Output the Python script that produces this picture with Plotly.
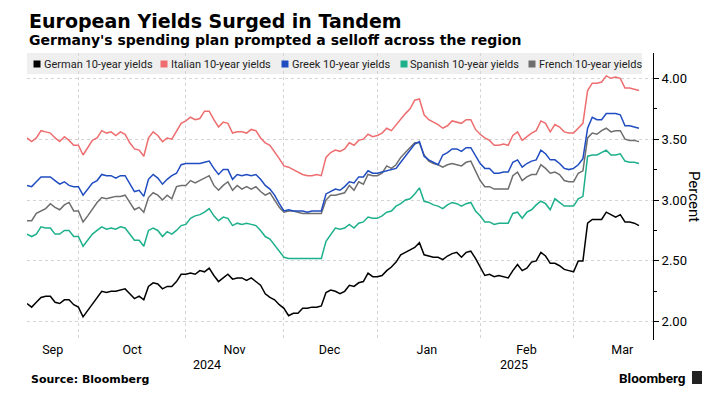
import pandas as pd
import plotly.graph_objects as go

# ---------------- data ----------------
holidays = ["2024-12-25", "2024-12-26", "2025-01-01"]
dates = pd.bdate_range("2024-09-13", "2025-03-20", freq="C", holidays=holidays).strftime("%Y-%m-%d").tolist()

german = [2.15, 2.12, 2.16, 2.20, 2.21, 2.21, 2.16, 2.15, 2.18, 2.18, 2.14, 2.12, 2.04, 2.09, 2.14, 2.19, 2.25, 2.24, 2.25, 2.25, 2.26, 2.27, 2.23, 2.19,
          2.21, 2.18, 2.29, 2.32, 2.31, 2.27, 2.29, 2.29, 2.33, 2.39, 2.39, 2.40, 2.39, 2.42, 2.41, 2.44, 2.38, 2.33, 2.36, 2.39, 2.35,
          2.36, 2.36, 2.34, 2.36, 2.33, 2.30, 2.23, 2.20, 2.18, 2.14, 2.11, 2.05, 2.07, 2.07, 2.11, 2.11, 2.12, 2.12, 2.13,
          2.24, 2.26, 2.25, 2.23, 2.25, 2.30, 2.29, 2.32, 2.33, 2.40, 2.37, 2.37, 2.38, 2.42, 2.45, 2.49, 2.55, 2.57, 2.59, 2.61, 2.65, 2.55, 2.54, 2.53,
          2.53, 2.51, 2.54, 2.56, 2.57, 2.53, 2.57, 2.58, 2.52, 2.45, 2.38, 2.39, 2.37, 2.38, 2.37, 2.36, 2.42, 2.47, 2.42, 2.44, 2.49,
          2.50, 2.57, 2.54, 2.48, 2.48, 2.46, 2.43, 2.42, 2.41, 2.50, 2.50, 2.81, 2.84, 2.84, 2.84, 2.90, 2.88, 2.86, 2.88, 2.82, 2.82, 2.81, 2.79]

italian = [3.51, 3.48, 3.51, 3.57, 3.56, 3.55, 3.51, 3.48, 3.52, 3.49, 3.45, 3.45, 3.37, 3.43, 3.49, 3.51, 3.57, 3.55, 3.56, 3.53, 3.56, 3.54, 3.47, 3.42,
           3.41, 3.36, 3.51, 3.56, 3.53, 3.48, 3.51, 3.50, 3.56, 3.63, 3.65, 3.68, 3.66, 3.67, 3.73, 3.73, 3.66, 3.60, 3.64, 3.63, 3.55,
           3.56, 3.56, 3.55, 3.58, 3.57, 3.51, 3.47, 3.45, 3.40, 3.34, 3.28, 3.27, 3.25, 3.23, 3.21, 3.20, 3.20, 3.21, 3.20,
           3.35, 3.39, 3.41, 3.40, 3.42, 3.47, 3.45, 3.49, 3.50, 3.54, 3.52, 3.53, 3.55, 3.59, 3.57, 3.62, 3.66, 3.71, 3.75, 3.82, 3.83, 3.70, 3.66, 3.64,
           3.62, 3.59, 3.61, 3.65, 3.64, 3.63, 3.66, 3.66, 3.58, 3.54, 3.51, 3.49, 3.45, 3.45, 3.46, 3.45, 3.53, 3.56, 3.49, 3.52, 3.55,
           3.57, 3.65, 3.63, 3.56, 3.62, 3.60, 3.56, 3.55, 3.55, 3.59, 3.63, 3.90, 3.96, 3.96, 3.97, 4.02, 4.00, 4.01, 4.00, 3.92, 3.92, 3.91, 3.90]

greek = [3.12, 3.11, 3.15, 3.19, 3.19, 3.19, 3.16, 3.13, 3.15, 3.12, 3.11, 3.11, 3.04, 3.09, 3.14, 3.16, 3.21, 3.20, 3.20, 3.18, 3.20, 3.20, 3.14, 3.07,
         3.08, 3.03, 3.17, 3.21, 3.18, 3.13, 3.17, 3.20, 3.22, 3.29, 3.30, 3.30, 3.30, 3.30, 3.31, 3.32, 3.26, 3.21, 3.25, 3.25, 3.17,
         3.21, 3.20, 3.21, 3.20, 3.21, 3.17, 3.12, 3.09, 3.04, 2.97, 2.91, 2.92, 2.91, 2.91, 2.91, 2.90, 2.91, 2.91, 2.91,
         3.05, 3.07, 3.09, 3.08, 3.11, 3.15, 3.14, 3.19, 3.19, 3.24, 3.22, 3.22, 3.23, 3.24, 3.25, 3.26, 3.31, 3.36, 3.41, 3.46, 3.48, 3.36, 3.33, 3.31,
         3.29, 3.37, 3.39, 3.42, 3.42, 3.40, 3.43, 3.43, 3.36, 3.30, 3.26, 3.26, 3.22, 3.22, 3.23, 3.23, 3.31, 3.33, 3.27, 3.30, 3.32,
         3.33, 3.41, 3.38, 3.33, 3.33, 3.30, 3.26, 3.25, 3.26, 3.29, 3.34, 3.59, 3.68, 3.66, 3.66, 3.71, 3.71, 3.71, 3.70, 3.61, 3.61, 3.60, 3.59]

spanish = [2.72, 2.70, 2.72, 2.78, 2.77, 2.77, 2.72, 2.72, 2.75, 2.75, 2.70, 2.70, 2.62, 2.67, 2.72, 2.75, 2.78, 2.76, 2.77, 2.76, 2.78, 2.77, 2.72, 2.67,
           2.67, 2.62, 2.75, 2.77, 2.75, 2.70, 2.74, 2.72, 2.75, 2.79, 2.80, 2.85, 2.87, 2.88, 2.90, 2.93, 2.87, 2.83, 2.86, 2.85, 2.79,
           2.81, 2.80, 2.81, 2.80, 2.79, 2.75, 2.70, 2.68, 2.63, 2.57, 2.53, 2.52, 2.52, 2.52, 2.52, 2.52, 2.52, 2.52, 2.52,
           2.66, 2.71, 2.77, 2.76, 2.77, 2.80, 2.77, 2.81, 2.82, 2.86, 2.85, 2.85, 2.87, 2.90, 2.91, 2.95, 2.97, 3.00, 3.01, 3.05, 3.10, 2.99, 2.98, 2.96,
           2.95, 2.93, 2.96, 2.98, 2.97, 2.95, 2.97, 2.98, 2.91, 2.87, 2.82, 2.82, 2.80, 2.81, 2.81, 2.81, 2.89, 2.90, 2.85, 2.90, 2.92,
           2.96, 2.99, 2.97, 2.92, 3.01, 2.98, 2.95, 2.95, 2.95, 3.01, 3.03, 3.36, 3.37, 3.37, 3.39, 3.41, 3.37, 3.37, 3.38, 3.32, 3.31, 3.31, 3.30]

french = [2.83, 2.83, 2.89, 2.91, 2.93, 2.97, 2.94, 2.92, 2.96, 2.98, 2.91, 2.91, 2.82, 2.87, 2.93, 2.98, 3.02, 3.01, 3.02, 3.03, 3.03, 3.04, 2.98, 2.92,
          2.94, 2.90, 3.02, 3.06, 3.04, 3.00, 3.04, 3.01, 3.11, 3.12, 3.12, 3.16, 3.14, 3.16, 3.18, 3.20, 3.12, 3.08, 3.12, 3.15, 3.08,
          3.12, 3.09, 3.11, 3.09, 3.11, 3.07, 3.04, 3.06, 3.00, 2.94, 2.90, 2.91, 2.91, 2.90, 2.89, 2.89, 2.89, 2.89, 2.89,
          3.00, 3.04, 3.04, 3.05, 3.06, 3.12, 3.08, 3.15, 3.13, 3.21, 3.20, 3.20, 3.22, 3.28, 3.26, 3.29, 3.35, 3.39, 3.43, 3.47, 3.47, 3.37, 3.32, 3.30,
          3.29, 3.27, 3.29, 3.30, 3.29, 3.28, 3.31, 3.32, 3.24, 3.16, 3.11, 3.11, 3.09, 3.09, 3.09, 3.09, 3.20, 3.23, 3.16, 3.19, 3.21,
          3.21, 3.29, 3.26, 3.22, 3.23, 3.21, 3.16, 3.15, 3.15, 3.22, 3.24, 3.51, 3.55, 3.54, 3.57, 3.59, 3.56, 3.57, 3.57, 3.50, 3.49, 3.49, 3.48]

series_names = ["German 10-year yields", "Italian 10-year yields", "Greek 10-year yields",
                "Spanish 10-year yields", "French 10-year yields"]
series_values = [german, italian, greek, spanish, french]
series_colors = ["#000000", "#ee6d6f", "#1f4cc0", "#1eb08c", "#6e6e6e"]

month_label_dates = ["2024-09-20 12:00", "2024-10-15 12:00", "2024-11-14 10:00", "2024-12-12 18:00",
                     "2025-01-15 14:00", "2025-02-13 22:00", "2025-03-14 10:00"]
month_labels = ["Sep", "Oct", "Nov", "Dec", "Jan", "Feb", "Mar"]
month_grid_dates = ["2024-09-30", "2024-10-31", "2024-11-29", "2024-12-31", "2025-01-31", "2025-02-28"]
year_label_dates = ["2024-11-06 14:00", "2025-02-11 08:00"]
year_labels = ["2024", "2025"]
y_ticks = [2.0, 2.5, 3.0, 3.5, 4.0]
y_minor_ticks = [2.25, 2.75, 3.25, 3.75]

# ---------------- layout helpers ----------------
W, H = 711, 403
L, R, T, B = 27, 653, 53, 340
def px_x(px):
    return (px - L) / (R - L)
def px_y(py):
    return (B - py) / (B - T)

NARROW = "Roboto, DejaVu Sans, sans-serif"
BOLD = "DejaVu Sans, sans-serif"

fig = go.Figure()
draw_order = [4, 3, 2, 1, 0]
for k in draw_order:
    fig.add_trace(go.Scatter(x=dates, y=series_values[k], mode="lines", name=series_names[k],
                             line=dict(color=series_colors[k], width=1.5), showlegend=False,
                             hoverinfo="skip"))

shapes = []
annotations = []

# legend background
shapes.append(dict(type="rect", xref="paper", yref="paper", x0=px_x(27), x1=px_x(642),
                   y0=px_y(74), y1=px_y(53), fillcolor="#efefef", line=dict(width=0), layer="below"))
legend_sq_x = [33.5, 160.5, 281.5, 400.5, 528.5]
for name, color, sx in zip(series_names, series_colors, legend_sq_x):
    shapes.append(dict(type="rect", xref="paper", yref="paper", x0=px_x(sx), x1=px_x(sx + 7),
                       y0=px_y(67.5), y1=px_y(60.5), fillcolor=color, line=dict(width=0), layer="above"))
    annotations.append(dict(xref="paper", yref="paper", x=px_x(sx + 8), y=px_y(64.5), text=name,
                            showarrow=False, xanchor="left", yanchor="middle",
                            font=dict(family=NARROW, size=11, color="#222")))

# titles
annotations.append(dict(xref="paper", yref="paper", x=px_x(27), y=px_y(21), text="<b>European Yields Surged in Tandem</b>",
                        showarrow=False, xanchor="left", yanchor="middle",
                        font=dict(family=BOLD, size=19, color="#000")))
annotations.append(dict(xref="paper", yref="paper", x=px_x(27), y=px_y(40), text="<b>Germany's spending plan prompted a selloff across the region</b>",
                        showarrow=False, xanchor="left", yanchor="middle",
                        font=dict(family=BOLD, size=14, color="#000")))
# year labels
for d, t in zip(year_label_dates, year_labels):
    annotations.append(dict(xref="x", yref="paper", x=d, y=px_y(364), text=t, showarrow=False,
                            xanchor="center", yanchor="middle", font=dict(family=NARROW, size=12.5, color="#000")))
# axis title
annotations.append(dict(xref="paper", yref="paper", x=px_x(694), y=px_y(197), text="Percent", textangle=90,
                        showarrow=False, xanchor="center", yanchor="middle",
                        font=dict(family=NARROW, size=15, color="#000")))
# footer
annotations.append(dict(xref="paper", yref="paper", x=px_x(29), y=px_y(379), text="<b>Source: Bloomberg</b>",
                        showarrow=False, xanchor="left", yanchor="middle",
                        font=dict(family=BOLD, size=11, color="#000")))
annotations.append(dict(xref="paper", yref="paper", x=px_x(688), y=px_y(378), text="<b>Bloomberg</b>",
                        showarrow=False, xanchor="right", yanchor="middle",
                        font=dict(family=NARROW, size=13.5, color="#000")))
shapes.append(dict(type="rect", xref="paper", yref="paper", x0=px_x(692), x1=px_x(702),
                   y0=px_y(384), y1=px_y(371), fillcolor="#222", line=dict(width=0)))

fig.update_layout(
    width=W, height=H,
    margin=dict(l=L, r=W - R, t=T, b=H - B),
    paper_bgcolor="white", plot_bgcolor="white",
    showlegend=False,
    shapes=shapes, annotations=annotations,
    xaxis=dict(type="date", range=["2024-09-13", "2025-03-25"],
               rangebreaks=[dict(bounds=["sat", "mon"]), dict(values=holidays)],
               tickmode="array", tickvals=month_label_dates, ticktext=month_labels,
               ticks="", showgrid=False, showline=False, zeroline=False,
               tickfont=dict(family=NARROW, size=12.5, color="#000"),
               minor=dict(tickmode="array", tickvals=month_grid_dates, showgrid=True,
                          gridcolor="#d4d4d4", griddash="dot", gridwidth=1, ticks="")),
    yaxis=dict(side="right", range=[1.85, 4.208], tickmode="array", tickvals=y_ticks,
               tickformat=".2f", showgrid=True, gridcolor="#d4d4d4", griddash="dot", gridwidth=1,
               showline=True, linecolor="#000", linewidth=1, ticks="outside", ticklen=5,
               tickcolor="#000", zeroline=False,
               tickfont=dict(family=NARROW, size=13, color="#000"),
               minor=dict(tickmode="array", tickvals=y_minor_ticks, ticks="outside", ticklen=3,
                          tickcolor="#000", showgrid=False)),
)

fig.write_html("out.html", post_script="document.body.style.margin='0';",
               config={"displayModeBar": False})
